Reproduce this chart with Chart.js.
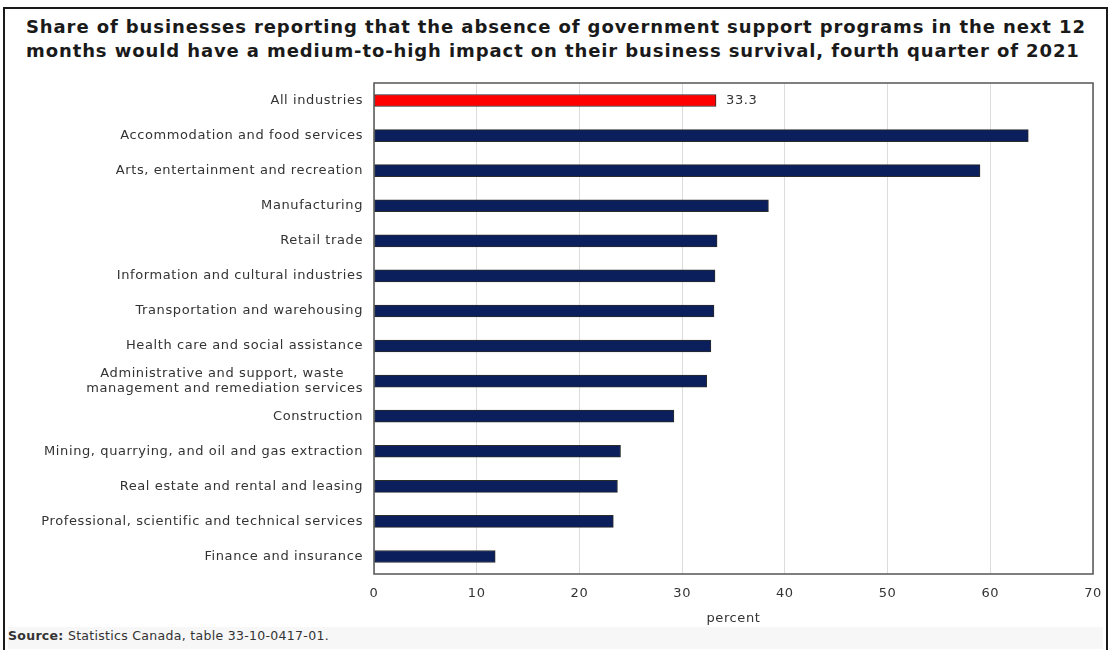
<!DOCTYPE html>
<html>
<head>
<meta charset="utf-8">
<script src="https://cdn.jsdelivr.net/npm/chart.js@4/dist/chart.umd.min.js"></script>
<style>
  html, body { margin: 0; padding: 0; background: #fff; }
  body { width: 1110px; height: 650px; position: relative; overflow: hidden; font-family: "DejaVu Sans", Verdana, sans-serif; }
  .frame { position: absolute; left: 3px; top: 7px; width: 1101px; height: 660px; border: 2px solid #1a1a1a; background: #fff; }
  .title { position: absolute; left: 26px; top: 15px; margin: 0; font-size: 18px; letter-spacing: 0.9px; font-weight: bold; line-height: 24px; color: #1a1a1a; white-space: nowrap; }
  .chart-box { position: absolute; left: 0; top: 70px; width: 1110px; height: 570px; }
  .source { position: absolute; left: 8px; top: 627px; width: 1095px; font-size: 12.5px; letter-spacing: 0.3px; color: #333; background: #f7f7f7; padding: 1px 0 6px 0; }
</style>
</head>
<body>
<div class="frame"></div>
<h1 class="title">Share of businesses reporting that the absence of government support programs in the next 12<br>months would have a medium-to-high impact on their business survival, fourth quarter of 2021</h1>
<div class="chart-box"><canvas id="barChart" width="1110" height="570"></canvas></div>
<div class="source"><b>Source:</b> Statistics Canada, table 33-10-0417-01.</div>

<script>
// industries, top to bottom
const industries = [
  "All industries",
  "Accommodation and food services",
  "Arts, entertainment and recreation",
  "Manufacturing",
  "Retail trade",
  "Information and cultural industries",
  "Transportation and warehousing",
  "Health care and social assistance",
  ["Administrative and support, waste\u00a0\u00a0\u00a0\u00a0", "management and remediation services"],
  "Construction",
  "Mining, quarrying, and oil and gas extraction",
  "Real estate and rental and leasing",
  "Professional, scientific and technical services",
  "Finance and insurance"
];

// percent of businesses
const shares = [33.3, 63.7, 59.0, 38.4, 33.4, 33.2, 33.1, 32.8, 32.4, 29.2, 24.0, 23.7, 23.3, 11.8];

// only the total gets a value label
const labelledIndex = [0];

const xTicks = [0, 10, 20, 30, 40, 50, 60, 70];

const barColors = shares.map((v, i) => i === 0 ? "#ff0000" : "#0a1f5c");

// wider text, closer to Verdana
const textSpacing = {
  id: "textSpacing",
  beforeDraw(chart) {
    chart.ctx.letterSpacing = "0.6px";
  }
};

// box around the plot area
const frameBox = {
  id: "frameBox",
  afterDraw(chart) {
    const { ctx, chartArea: a } = chart;
    ctx.save();
    ctx.strokeStyle = "#555";
    ctx.lineWidth = 1.5;
    ctx.strokeRect(a.left, a.top, a.right - a.left, a.bottom - a.top);
    ctx.restore();
  }
};

// value next to the bar end
const valueLabels = {
  id: "valueLabels",
  afterDatasetsDraw(chart) {
    const { ctx } = chart;
    const meta = chart.getDatasetMeta(0);
    ctx.save();
    ctx.font = "13px 'DejaVu Sans'";
    ctx.fillStyle = "#333";
    ctx.textAlign = "left";
    ctx.textBaseline = "middle";
    labelledIndex.forEach(i => {
      const bar = meta.data[i];
      ctx.fillText(shares[i].toFixed(1), bar.x + 10, bar.y);
    });
    ctx.restore();
  }
};

Chart.defaults.font.family = "'DejaVu Sans', Verdana, sans-serif";
Chart.defaults.font.size = 13;
Chart.defaults.color = "#333";

new Chart(document.getElementById("barChart"), {
  type: "bar",
  data: {
    labels: industries,
    datasets: [{
      data: shares,
      backgroundColor: barColors,
      borderColor: "#2b2b2b",
      borderWidth: 1,
      borderSkipped: false,
      barThickness: 12
    }]
  },
  options: {
    indexAxis: "y",
    responsive: false,
    animation: false,
    layout: { padding: { top: 13, right: 17, bottom: 10, left: 0 } },
    plugins: {
      legend: { display: false },
      tooltip: { enabled: false }
    },
    scales: {
      x: {
        min: 0,
        max: 70,
        afterBuildTicks(scale) {
          scale.ticks = xTicks.map(v => ({ value: v }));
        },
        afterFit(scale) {
          scale.height = 56;
          scale.paddingLeft = 0;
          scale.paddingRight = 0;
        },
        grid: { color: "#dcdcdc", drawTicks: false },
        border: { display: false },
        ticks: { padding: 12, color: "#333" },
        title: { display: true, text: "percent", color: "#333", padding: { top: 0, bottom: 4 } }
      },
      y: {
        afterFit(scale) {
          scale.width = 374;
          scale.paddingTop = 0;
          scale.paddingBottom = 0;
        },
        grid: { display: false, drawTicks: false },
        border: { display: false },
        ticks: { padding: 11, color: "#333", autoSkip: false }
      }
    }
  },
  plugins: [textSpacing, frameBox, valueLabels]
});
</script>
</body>
</html>
